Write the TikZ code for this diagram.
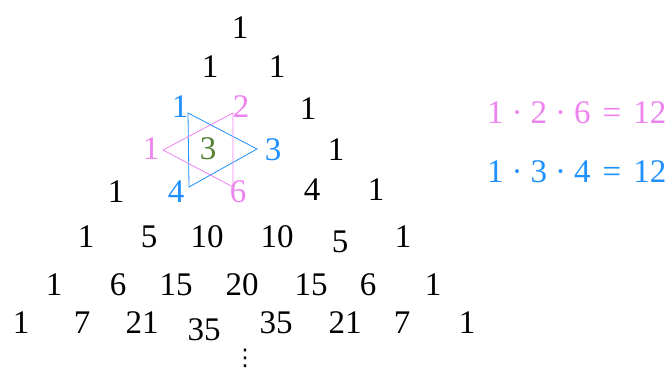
\documentclass[tikz,border=0pt]{standalone}
\usepackage{fontspec}
\setmainfont{Liberation Serif}
\newfontfamily\dejavu{DejaVu Sans}
\definecolor{pinkc}{RGB}{238,130,238}
\definecolor{bluec}{RGB}{30,144,255}
\definecolor{greenc}{RGB}{84,130,53}
\begin{document}
\begin{tikzpicture}[x=1pt,y=-1pt,
  num/.style={inner sep=0pt,font=\fontsize{33}{38}\selectfont},
  eq/.style={inner sep=0pt,font=\fontsize{33}{38}\selectfont,anchor=west},
  tri/.style={line width=0.8pt,line join=miter}]
\useasboundingbox (0,0) rectangle (668,370);
% row 0
\node[num] (r0a) at (240,28) {1};
% row 1
\node[num] (r1a) at (210,67) {1};
\node[num] (r1b) at (277,67) {1};
% row 2
\node[num,text=bluec] (r2a) at (180,107) {1};
\node[num,text=pinkc] (r2b) at (241,107) {2};
\node[num] (r2c) at (308,109) {1};
% row 3
\node[num,text=pinkc] (r3a) at (151,149) {1};
\node[num,text=greenc] (r3b) at (208,149) {3};
\node[num,text=bluec] (r3c) at (273,150) {3};
\node[num] (r3d) at (336,150) {1};
% row 4
\node[num] (r4a) at (116,192) {1};
\node[num,text=bluec] (r4b) at (176,192) {4};
\node[num,text=pinkc] (r4c) at (238,192) {6};
\node[num] (r4d) at (312,190) {4};
\node[num] (r4e) at (376,190) {1};
% row 5
\node[num] (r5a) at (86,237) {1};
\node[num] (r5b) at (149,237) {5};
\node[num] (r5c) at (207,237) {10};
\node[num] (r5d) at (277,237) {10};
\node[num] (r5e) at (340,242) {5};
\node[num] (r5f) at (403,237) {1};
% row 6
\node[num] (r6a) at (54,285) {1};
\node[num] (r6b) at (118,285) {6};
\node[num] (r6c) at (176,285) {15};
\node[num] (r6d) at (242,285) {20};
\node[num] (r6e) at (311,285) {15};
\node[num] (r6f) at (368,285) {6};
\node[num] (r6g) at (433,285) {1};
% row 7
\node[num] (r7a) at (21,323) {1};
\node[num] (r7b) at (82,323) {7};
\node[num] (r7c) at (142,323) {21};
\node[num] (r7d) at (204,330) {35};
\node[num] (r7e) at (276,323) {35};
\node[num] (r7f) at (345,323) {21};
\node[num] (r7g) at (402,323) {7};
\node[num] (r7h) at (467,323) {1};
% dots
\node[inner sep=0pt,font=\dejavu\fontsize{23}{28}\selectfont] (vd) at (245,358) {⋮};
% triangles
\coordinate (b1) at (188,113);
\coordinate (b2) at (257,149);
\coordinate (b3) at (189,187);
\coordinate (p1) at (233,113);
\coordinate (p2) at (163,150);
\coordinate (p3) at (233,187);
\draw[tri,bluec] (b1) -- (b2) -- (b3) -- cycle;
\draw[tri,pinkc] (p1) -- (p2) -- (p3) -- cycle;
% equations
\node[eq,text=pinkc] (eq1) at (487,113) {1\hspace{8pt}·\hspace{8pt}2\hspace{8pt}·\hspace{8pt}6\hspace{12pt}=\hspace{12pt}12};
\node[eq,text=bluec] (eq2) at (487,172) {1\hspace{8pt}·\hspace{8pt}3\hspace{8pt}·\hspace{8pt}4\hspace{12pt}=\hspace{12pt}12};
\end{tikzpicture}
\end{document}
